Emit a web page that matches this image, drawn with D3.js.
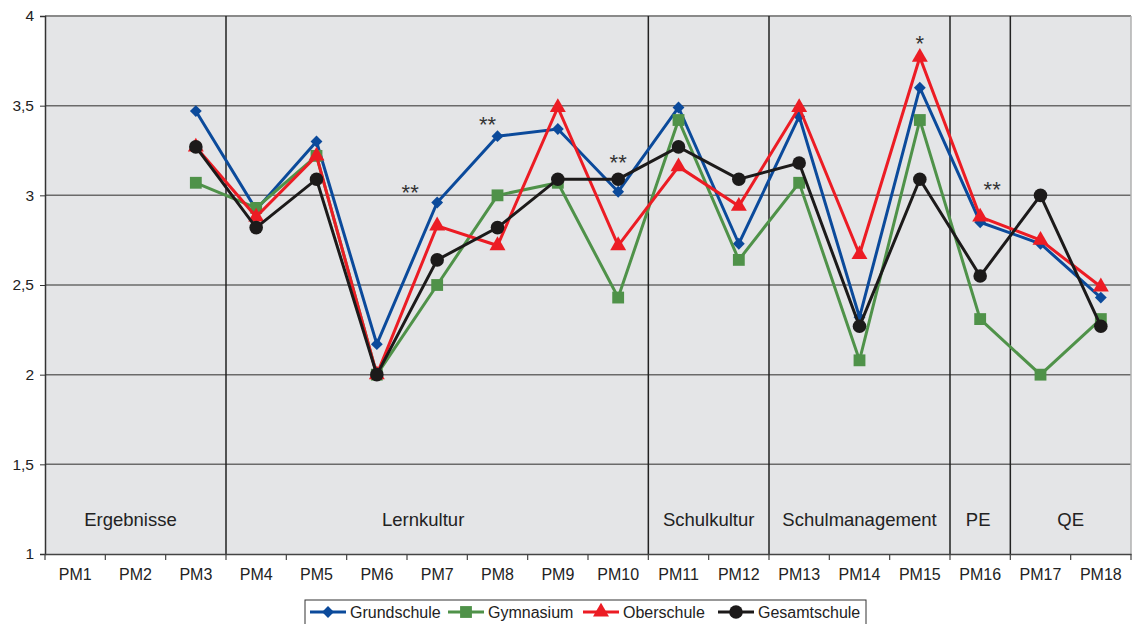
<!DOCTYPE html>
<html><head><meta charset="utf-8">
<script src="https://cdn.jsdelivr.net/npm/d3@7"></script>
<style>
html,body{margin:0;padding:0;background:#fff;}
svg{display:block;font-family:"Liberation Sans",Arial,Helvetica,sans-serif;}
</style></head>
<body><svg id="chart" width="1136" height="624"></svg>
<script>
const categories = ["PM1","PM2","PM3","PM4","PM5","PM6","PM7","PM8","PM9","PM10","PM11","PM12","PM13","PM14","PM15","PM16","PM17","PM18"];
const grundschule  = [null,null,3.47,2.92,3.30,2.17,2.96,3.33,3.37,3.02,3.49,2.73,3.44,2.32,3.60,2.85,2.73,2.43];
const gymnasium    = [null,null,3.07,2.93,3.22,2.00,2.50,3.00,3.07,2.43,3.42,2.64,3.07,2.08,3.42,2.31,2.00,2.31];
const oberschule   = [null,null,3.27,2.88,3.22,2.00,2.83,2.72,3.49,2.72,3.16,2.94,3.49,2.67,3.77,2.88,2.75,2.49];
const gesamtschule = [null,null,3.27,2.82,3.09,2.00,2.64,2.82,3.09,3.09,3.27,3.09,3.18,2.27,3.09,2.55,3.00,2.27];
const seriesNames = ["Grundschule","Gymnasium","Oberschule","Gesamtschule"];
const yTicks = [1,1.5,2,2.5,3,3.5,4];
const sectionNames = ["Ergebnisse","Lernkultur","Schulkultur","Schulmanagement","PE","QE"];
const sectionStart = ["PM1","PM4","PM11","PM13","PM16","PM17"];
const sectionEnd   = ["PM3","PM10","PM12","PM15","PM16","PM18"];
const annotationCats  = ["PM7","PM8","PM10","PM15","PM16"];
const annotationTexts = ["**","**","**","*","**"];
const annotationVals  = [3.04,3.42,3.21,3.87,3.06];

const seriesData = [grundschule, gymnasium, oberschule, gesamtschule];
const colors = ["#0b4a9b","#4f9249","#ec1c24","#1c1a1a"];
const shapes = [d3.symbolSquare, d3.symbolSquare, d3.symbolTriangle, d3.symbolCircle];
const rotate = [45, 0, 0, 0];
const symSize = [70, 140, 110, 145];

const svg = d3.select("#chart");
const L = 45, R = 1131, T = 16, B = 554;
const x = d3.scaleBand().domain(categories).range([L, R]).padding(0);
const y = d3.scaleLinear().domain([1,4]).range([B, T]);
const fmt = v => d3.format("")(v).replace(".", ",");

// plot background
svg.append("rect").attr("x", L).attr("y", T).attr("width", R-L).attr("height", B-T).attr("fill", "#e4e5e7");

// horizontal gridlines
svg.append("g").selectAll("line").data(yTicks.filter(t => t > 1 && t < 4)).join("line")
  .attr("x1", L).attr("x2", R).attr("y1", d => y(d)).attr("y2", d => y(d))
  .attr("stroke", "#6a6a6a").attr("stroke-width", 1.5);
// top / right border
svg.append("line").attr("x1", L).attr("x2", R).attr("y1", y(4)).attr("y2", y(4)).attr("stroke", "#8a8a8a").attr("stroke-width", 2);
svg.append("line").attr("x1", R).attr("x2", R).attr("y1", T).attr("y2", B).attr("stroke", "#b0b0b0").attr("stroke-width", 1.5);

// section separators
sectionEnd.slice(0, -1).forEach(c => {
  const xx = x(c) + x.bandwidth();
  svg.append("line").attr("x1", xx).attr("x2", xx).attr("y1", T).attr("y2", B)
    .attr("stroke", "#222").attr("stroke-width", 1.5);
});
// section labels
const labelDx = {"Lernkultur": -14, "Ergebnisse": -5, "PE": -2};
sectionNames.forEach((n, i) => {
  const cx = (x(sectionStart[i]) + x(sectionEnd[i]) + x.bandwidth()) / 2 + (labelDx[n] || 0);
  svg.append("text").attr("x", cx).attr("y", 526).attr("text-anchor", "middle")
    .attr("font-size", 18.5).attr("fill", "#222").text(n);
});

// y axis
const yAxis = d3.axisLeft(y).tickValues(yTicks).tickFormat(fmt).tickSize(5).tickPadding(6);
const gy = svg.append("g").attr("transform", `translate(${L},0)`).call(yAxis);
gy.select(".domain").attr("stroke", "#333").attr("stroke-width", 1.5);
gy.selectAll(".tick line").attr("stroke", "#333");
gy.selectAll(".tick text").attr("font-size", 15.5).attr("fill", "#222").attr("font-family", "Liberation Sans, Arial, sans-serif");

// x axis
const xAxis = d3.axisBottom(x).tickSize(0).tickPadding(15);
const gx = svg.append("g").attr("transform", `translate(0,${B})`).call(xAxis);
gx.select(".domain").attr("stroke", "#444").attr("stroke-width", 1.5);
gx.selectAll(".tick text").attr("font-size", 16).attr("fill", "#222").attr("font-family", "Liberation Sans, Arial, sans-serif");
// boundary tick marks
gx.append("g").selectAll("line").data(d3.range(categories.length + 1)).join("line")
  .attr("x1", i => L + i * x.bandwidth()).attr("x2", i => L + i * x.bandwidth())
  .attr("y1", 0).attr("y2", 6).attr("stroke", "#444").attr("stroke-width", 1.2);

// series
const line = d3.line().defined(d => d.v != null).x(d => x(d.c) + x.bandwidth()/2).y(d => y(d.v));
seriesData.forEach((arr, si) => {
  const pts = categories.map((c, i) => ({c, v: arr[i]}));
  const g = svg.append("g");
  g.append("path").datum(pts).attr("d", line).attr("fill", "none")
    .attr("stroke", colors[si]).attr("stroke-width", 3).attr("stroke-linejoin", "miter");
  g.selectAll("path.m").data(pts.filter(p => p.v != null)).join("path").attr("class", "m")
    .attr("transform", p => `translate(${x(p.c) + x.bandwidth()/2},${y(p.v)}) rotate(${rotate[si]})`)
    .attr("d", d3.symbol().type(shapes[si]).size(symSize[si]))
    .attr("fill", colors[si]);
});

// significance annotations
const annDx = {"PM7": -27, "PM8": -10, "PM16": 12};
annotationCats.forEach((c, i) => {
  svg.append("text").attr("x", x(c) + x.bandwidth()/2 + (annDx[c] || 0)).attr("y", y(annotationVals[i]) + 12)
    .attr("text-anchor", "middle").attr("font-size", 22).attr("fill", "#333").text(annotationTexts[i]);
});

// legend
const lg = svg.append("g");
lg.append("rect").attr("x", 305).attr("y", 600).attr("width", 561).attr("height", 26)
  .attr("fill", "#fff").attr("stroke", "#333").attr("stroke-width", 1);
const legX = [310, 448, 583, 718];
seriesNames.forEach((n, i) => {
  const lx = legX[i], ly = 612;
  lg.append("line").attr("x1", lx).attr("x2", lx + 36).attr("y1", ly).attr("y2", ly)
    .attr("stroke", colors[i]).attr("stroke-width", 3);
  lg.append("path").attr("transform", `translate(${lx + 18},${ly}) rotate(${rotate[i]})`)
    .attr("d", d3.symbol().type(shapes[i]).size(symSize[i])).attr("fill", colors[i]);
  lg.append("text").attr("x", lx + 40).attr("y", ly + 6).attr("font-size", 16).attr("fill", "#222").text(n);
});
</script></body></html>
